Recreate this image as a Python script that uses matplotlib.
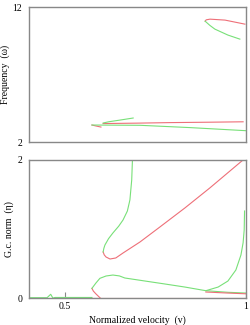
import matplotlib
matplotlib.use('Agg')
import matplotlib.pyplot as plt

plt.rcParams['font.family'] = ['Liberation Serif', 'DejaVu Serif']

red = '#ee6f78'
green = '#78e078'

# ---- top panel: frequency (omega) vs normalized velocity ----
top_red_main_v = [0.605, 0.70, 0.79, 0.90, 0.992]
top_red_main_f = [3.37, 3.40, 3.44, 3.47, 3.50]
top_red_small_v = [0.574, 0.585, 0.599]
top_red_small_f = [3.26, 3.19, 3.11]
top_green_low_v = [0.574, 0.64, 0.707, 0.845, 1.0]
top_green_low_f = [3.26, 3.25, 3.24, 3.07, 2.84]
top_green_up_v = [0.605, 0.62, 0.65, 0.688]
top_green_up_f = [3.41, 3.50, 3.62, 3.78]
top_red_hi_v = [0.887, 0.890, 0.9005, 0.942, 0.997]
top_red_hi_f = [10.96, 11.06, 11.11, 11.04, 10.74]
top_green_hi_v = [0.887, 0.900, 0.914, 0.950, 0.983]
top_green_hi_f = [10.96, 10.65, 10.37, 9.93, 9.63]

# ---- bottom panel: G.c. norm (eta) vs normalized velocity ----
bot_green_base_v = [0.40, 0.450, 0.460, 0.466, 0.472, 0.574]
bot_green_base_e = [0.005, 0.005, 0.054, 0.0, 0.008, 0.008]
bot_red_base_v = [0.574, 1.0]
bot_red_base_e = [0.0, 0.0]
bot_red_hook_v = [0.574, 0.578, 0.585, 0.594, 0.597]
bot_red_hook_e = [0.14, 0.10, 0.06, 0.015, 0.0]
bot_green_arc_v = [0.574, 0.585, 0.596, 0.613, 0.632, 0.650, 0.665, 0.721, 0.776, 0.831, 0.889, 0.950, 1.0]
bot_green_arc_e = [0.14, 0.217, 0.285, 0.319, 0.333, 0.32, 0.29, 0.246, 0.203, 0.159, 0.106, 0.083, 0.072]
bot_green_right_v = [0.889, 0.923, 0.950, 0.972, 0.986, 0.992, 0.995, 0.996]
bot_green_right_e = [0.106, 0.159, 0.246, 0.406, 0.623, 0.80, 0.986, 1.26]
bot_red_tail_v = [0.889, 0.950, 1.0]
bot_red_tail_e = [0.087, 0.072, 0.061]
bot_red_diag_v = [0.605, 0.608, 0.613, 0.624, 0.640, 0.660, 0.707, 0.762, 0.831, 0.900, 0.992]
bot_red_diag_e = [0.667, 0.625, 0.594, 0.565, 0.58, 0.652, 0.812, 1.029, 1.304, 1.594, 2.0]
bot_green_rise_v = [0.605, 0.607, 0.610, 0.620, 0.632, 0.648, 0.660, 0.672, 0.679, 0.684, 0.686]
bot_green_rise_e = [0.667, 0.72, 0.768, 0.86, 0.942, 1.04, 1.13, 1.26, 1.42, 1.71, 2.0]

fig = plt.figure(figsize=(2.5, 3.25), dpi=100)
ax1 = fig.add_axes([0.116, 0.563, 0.868, 0.415])
ax2 = fig.add_axes([0.116, 0.083, 0.868, 0.425])

lw = 0.8
ax1.plot(top_red_main_v, top_red_main_f, color=red, lw=lw)
ax1.plot(top_red_small_v, top_red_small_f, color=red, lw=lw)
ax1.plot(top_green_low_v, top_green_low_f, color=green, lw=lw)
ax1.plot(top_green_up_v, top_green_up_f, color=green, lw=lw)
ax1.plot(top_red_hi_v, top_red_hi_f, color=red, lw=lw)
ax1.plot(top_green_hi_v, top_green_hi_f, color=green, lw=lw)

ax2.plot(bot_green_base_v, bot_green_base_e, color=green, lw=lw)
ax2.plot(bot_red_base_v, bot_red_base_e, color=red, lw=lw)
ax2.plot(bot_red_hook_v, bot_red_hook_e, color=red, lw=lw)
ax2.plot(bot_green_arc_v, bot_green_arc_e, color=green, lw=lw)
ax2.plot(bot_green_right_v, bot_green_right_e, color=green, lw=lw)
ax2.plot(bot_red_tail_v, bot_red_tail_e, color=red, lw=lw)
ax2.plot(bot_red_diag_v, bot_red_diag_e, color=red, lw=lw)
ax2.plot(bot_green_rise_v, bot_green_rise_e, color=green, lw=lw)

ax1.set_xlim(0.4, 1.0)
ax1.set_ylim(2, 12)
ax1.set_xticks([])
ax1.set_yticks([2, 12])
ax1.set_ylabel('Frequency  (ω)', fontsize=7, labelpad=2)

ax2.set_xlim(0.4, 1.0)
ax2.set_ylim(0, 2)
ax2.set_xticks([0.5, 1])
ax2.set_xticklabels(['0.5', '1'])
ax2.set_yticks([0, 2])
ax2.set_xlabel('Normalized velocity  (v)', fontsize=7, labelpad=3)
ax2.set_ylabel('G.c. norm  (η)', fontsize=7, labelpad=2)

for ax in (ax1, ax2):
    for s in ax.spines.values():
        s.set_color('#888888')
        s.set_linewidth(1.0)
    ax.tick_params(axis='y', length=0, labelsize=7, pad=5)
    ax.tick_params(axis='x', direction='in', length=4.5, color='#888888',
                   labelsize=7, pad=3)

fig.savefig('out.png', dpi=100)
